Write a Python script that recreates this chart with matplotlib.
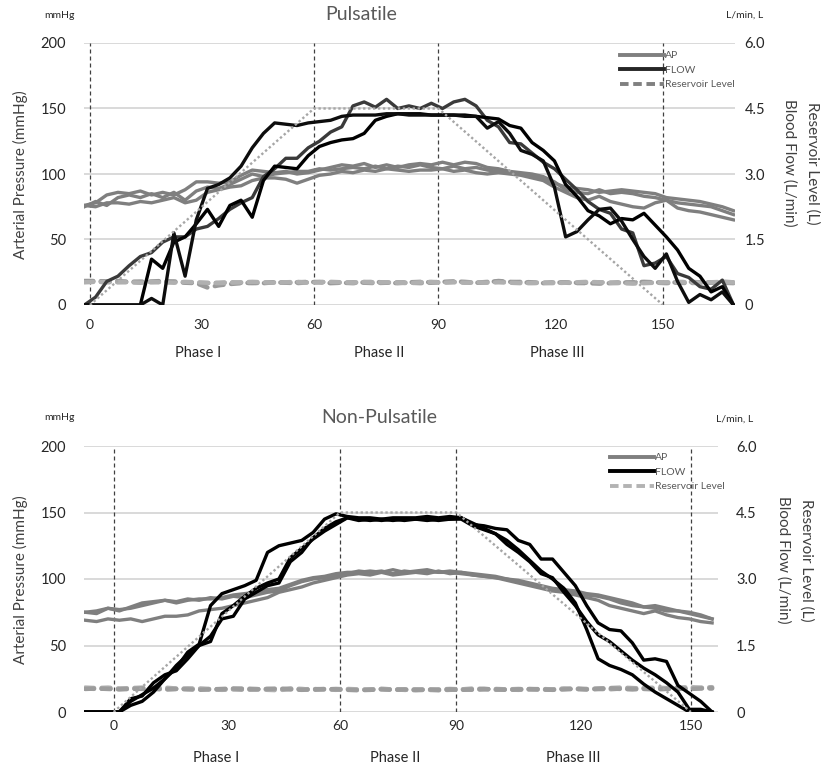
import numpy as np
import matplotlib
matplotlib.use("Agg")
import matplotlib.pyplot as plt
from matplotlib.lines import Line2D

plt.rcParams['font.family'] = ['Lato', 'DejaVu Sans']

# ---------------- data ----------------
TICK_TIMES = [0, 30, 60, 90, 120, 150]
TICK_LABELS = ['0', '30', '60', '90', '120', '150']
TARGET_TIMES = [0, 60, 90, 150]
TARGET_FLOW = [0, 4.5, 4.5, 0]

# Pulsatile panel (uneven category axis)
P_TICK_POS = [0, 29.9, 60.05, 93.4, 124.8, 153.6]
P_START, P_STEP, P_N = -1.5, 3.0, 59

P_AP1 = [76,78,84,86,85,87,84,86,84,88, 94,94,93,94,99,103,102,101,102,100,
         101,103,105,107,106,108,105,107,105,107, 108,107,109,107,109,108,105,104,102,101,
         100,98,94,88,86,85,88,85,86,85, 83,82,80,78,77,76,75,72,69]
P_AP2 = [76,75,78,78,77,79,78,80,82,78, 80,86,88,90,91,95,97,97,96,93,
         96,99,100,102,101,103,102,104,103,102, 103,103,104,102,103,101,100,101,100,99,
         97,95,90,86,82,80,83,79,77,75, 74,78,80,74,72,71,69,67,65]
P_AP3 = [75,79,76,82,84,82,85,82,86,80, 87,90,89,92,96,100,98,100,101,102,
         102,104,103,104,105,104,106,104,106,105, 107,105,104,106,104,105,103,102,101,100,
         99,96,93,90,89,88,86,87,88,87, 86,85,82,81,80,79,77,75,72]

P_FLOW1 = [0,0,0,0,0,0,0.15,0.0,1.65,0.66, 1.95,2.67,2.76,2.91,3.18,3.60,3.93,4.17,4.14,4.11,
           4.17,4.20,4.23,4.32,4.35,4.35,4.35,4.38,4.38,4.35, 4.35,4.35,4.35,4.35,4.32,4.32,4.05,4.20,3.93,3.54,
           3.45,3.30,2.70,1.56,1.68,1.95,2.19,2.22,1.92,1.50, 1.11,0.84,1.17,0.54,0.06,0.24,0.12,0.30,0.0]
P_FLOW2 = [0,0,0,0,0,0,1.05,0.84,1.44,1.56, 1.86,2.19,1.80,2.28,2.40,2.01,2.85,3.18,3.15,3.12,
           3.42,3.63,3.72,3.78,3.81,3.93,4.23,4.32,4.38,4.38, 4.38,4.35,4.35,4.35,4.35,4.32,4.29,4.26,4.11,4.05,
           3.72,3.54,3.30,2.76,2.49,2.16,2.04,1.86,1.98,1.95, 2.10,1.83,1.56,1.26,0.84,0.66,0.30,0.42,0.0]
P_FLOW3 = [0,0.18,0.54,0.66,0.90,1.11,1.20,1.44,1.56,1.56, 1.74,1.80,1.98,2.19,2.34,2.46,2.94,3.12,3.36,3.36,
           3.60,3.75,3.96,4.08,4.56,4.65,4.53,4.71,4.50,4.56, 4.50,4.62,4.50,4.65,4.71,4.56,4.23,4.08,3.72,3.69,
           3.48,3.27,3.12,2.88,2.64,2.37,2.19,2.10,1.74,1.65, 0.90,0.96,1.11,0.72,0.63,0.42,0.36,0.57,0.0]

P_RES1 = [0.53,0.54,0.53,0.52,0.53,0.54,0.52,0.53,0.54,0.52, 0.51,0.50,0.51,0.52,0.51,0.50,0.51,0.52,0.51,0.50,
          0.52,0.53,0.52,0.51,0.52,0.51,0.50,0.51,0.52,0.51, 0.50,0.51,0.52,0.53,0.52,0.51,0.53,0.54,0.52,0.53,
          0.52,0.51,0.52,0.51,0.50,0.51,0.52,0.51,0.52,0.51, 0.52,0.51,0.50,0.51,0.50,0.51,0.52,0.51,0.50]
P_RES2 = [0.55,0.55,0.54,0.55,0.53,0.52,0.54,0.55,0.53,0.51, 0.50,0.40,0.45,0.48,0.50,0.51,0.50,0.52,0.51,0.52,
          0.53,0.52,0.50,0.51,0.50,0.52,0.53,0.51,0.50,0.52, 0.53,0.52,0.53,0.54,0.53,0.51,0.52,0.55,0.53,0.52,
          0.51,0.50,0.51,0.52,0.51,0.50,0.49,0.50,0.51,0.52, 0.53,0.52,0.51,0.52,0.53,0.52,0.51,0.53,0.52]
P_RES3 = [0.52,0.53,0.52,0.53,0.52,0.51,0.53,0.52,0.51,0.53, 0.52,0.51,0.50,0.51,0.52,0.53,0.52,0.51,0.52,0.53,
          0.51,0.52,0.53,0.52,0.51,0.53,0.52,0.52,0.51,0.50, 0.52,0.53,0.51,0.52,0.51,0.52,0.51,0.52,0.51,0.50,
          0.50,0.51,0.50,0.51,0.52,0.53,0.52,0.51,0.50,0.49, 0.50,0.51,0.52,0.53,0.52,0.51,0.52,0.53,0.52]

# Non-pulsatile panel
N_TICK_POS = [0, 30.3, 59.6, 90.2, 123.1, 151.9]
N_START, N_STEP, N_N = -7.5, 3.0, 56

N_AP1 = [75,74,78,77,78,80,82,84,83,85, 84,86,85,87,86,88,90,91,95,98,
         100,101,103,104,106,105,106,104,106,105, 106,105,106,105,104,103,102,100,98,96,
         94,92,91,90,88,87,85,82,80,79, 80,78,76,74,72,70]
N_AP2 = [69,68,70,69,70,68,70,72,72,73, 76,77,78,80,82,84,86,90,92,94,
         97,99,101,103,104,103,105,103,104,105, 104,106,104,105,103,102,101,99,97,95,
         93,91,90,88,86,84,80,78,76,74, 76,73,71,70,68,67]
N_AP3 = [75,76,78,76,79,82,83,84,82,84, 85,85,86,88,89,90,92,93,96,99,
         101,102,104,105,105,106,105,107,105,106, 107,105,105,104,103,102,101,100,99,97,
         95,93,92,91,89,88,86,84,82,79, 78,76,76,75,73,70]

N_FLOW1 = [0,0,0,0,0.24,0.39,0.54,0.75,0.99,1.35, 1.53,2.40,2.67,2.76,2.85,2.97,3.60,3.75,3.81,3.87,
           4.05,4.35,4.47,4.41,4.38,4.38,4.35,4.38,4.38,4.38, 4.41,4.38,4.41,4.38,4.23,4.20,4.14,4.11,3.87,3.78,
           3.45,3.45,3.15,2.85,2.40,2.01,1.86,1.83,1.56,1.17, 1.20,1.14,0.60,0.42,0.24,0.0]
N_FLOW2 = [0,0,0,0,0.30,0.36,0.66,0.84,0.93,1.20, 1.50,1.71,2.10,2.16,2.55,2.70,2.85,2.91,3.39,3.60,
           3.93,4.14,4.29,4.38,4.35,4.32,4.35,4.32,4.35,4.35, 4.32,4.35,4.35,4.35,4.20,4.11,4.02,3.78,3.60,3.39,
           3.12,3.03,2.70,2.40,2.04,1.74,1.59,1.38,1.17,0.99, 0.84,0.66,0.45,0.06,0.06,0.0]
N_FLOW3 = [0,0,0,0,0.15,0.24,0.45,0.75,1.05,1.29, 1.50,1.59,2.22,2.40,2.61,2.79,2.91,3.00,3.48,3.69,
           3.90,4.08,4.23,4.38,4.32,4.35,4.32,4.35,4.32,4.35, 4.35,4.32,4.35,4.38,4.26,4.14,4.02,3.87,3.66,3.42,
           3.18,3.00,2.79,2.46,1.86,1.20,1.05,0.96,0.84,0.63, 0.45,0.30,0.15,0.0,0.0,0.0]

N_RES1 = [0.53,0.52,0.53,0.52,0.53,0.52,0.53,0.51,0.52,0.53, 0.52,0.51,0.50,0.51,0.50,0.51,0.52,0.51,0.53,0.52,
          0.50,0.51,0.52,0.51,0.50,0.51,0.52,0.51,0.50,0.51, 0.50,0.49,0.50,0.51,0.50,0.51,0.52,0.51,0.50,0.51,
          0.52,0.51,0.52,0.53,0.52,0.53,0.54,0.55,0.54,0.53, 0.54,0.53,0.52,0.53,0.54,0.53]
N_RES2 = [0.55,0.54,0.55,0.53,0.54,0.55,0.54,0.55,0.53,0.52, 0.53,0.52,0.51,0.52,0.53,0.52,0.50,0.49,0.52,0.51,
          0.52,0.51,0.50,0.52,0.51,0.50,0.52,0.51,0.50,0.49, 0.50,0.51,0.52,0.51,0.53,0.52,0.50,0.51,0.52,0.51,
          0.50,0.51,0.53,0.52,0.51,0.52,0.51,0.53,0.52,0.54, 0.55,0.54,0.55,0.56,0.55,0.56]
N_RES3 = [0.52,0.53,0.52,0.51,0.52,0.53,0.52,0.51,0.52,0.51, 0.50,0.51,0.52,0.53,0.52,0.51,0.52,0.53,0.51,0.50,
          0.51,0.52,0.51,0.50,0.49,0.50,0.51,0.50,0.51,0.50, 0.51,0.50,0.51,0.50,0.51,0.52,0.51,0.50,0.51,0.52,
          0.51,0.50,0.51,0.52,0.51,0.52,0.53,0.52,0.51,0.52, 0.51,0.52,0.53,0.52,0.53,0.54]

# ---------------- figure ----------------
W, H = 823, 771
fig = plt.figure(figsize=(W / 100, H / 100), dpi=100)


def fx(px):
    return px / W


def fy(py):
    return 1 - py / H


AP_C = '#7f7f7f'
TXT = '#404040'


def panel(box, xlim, tick_pos, start, step, n, aps, flows, flow_cols, ress, res_cols,
          lpad, rpad, xpad, leg_xy, leg_res_col, leg_flow_col):
    l, t, r, b = box
    ax = fig.add_axes([fx(l), fy(b), fx(r) - fx(l), fy(t) - fy(b)])
    ax.set_xlim(*xlim)
    ax.set_ylim(0, 200)
    ax2 = ax.twinx()
    ax2.set_ylim(0, 6)
    for a in (ax, ax2):
        for s in a.spines.values():
            s.set_visible(False)
    ax.set_axisbelow(True)
    ax.set_yticks([0, 50, 100, 150, 200])
    ax.yaxis.grid(True, color='#d9d9d9', lw=1.4)
    ax.tick_params(axis='y', length=0, pad=lpad, labelsize=10.5, labelcolor='#262626')
    ax.set_xticks(tick_pos)
    ax.set_xticklabels(TICK_LABELS)
    ax.tick_params(axis='x', length=0, pad=xpad, labelsize=10, labelcolor='#262626')
    ax2.set_yticks([0, 1.5, 3, 4.5, 6])
    ax2.set_yticklabels(['0', '1.5', '3.0', '4.5', '6.0'])
    ax2.tick_params(axis='y', length=0, pad=rpad, labelsize=10.5, labelcolor='#262626')

    for tpos in [tick_pos[0], tick_pos[2], tick_pos[3], tick_pos[5]]:
        ax.axvline(tpos, color='#404040', lw=0.9, dashes=(3.2, 2.4), zorder=1)

    xs = start + step * np.arange(n)
    for ap in aps:
        ax.plot(xs, ap, color=AP_C, lw=2.4, solid_joinstyle='round', zorder=3)
    for res, c in zip(ress, res_cols):
        ax2.plot(xs, res, color=c, lw=3.2, dashes=(2.0, 1.7), dash_capstyle='round', zorder=2)
    for fl, c in zip(flows, flow_cols):
        ax2.plot(xs, fl, color=c, lw=2.4, solid_joinstyle='round', zorder=3)
    tx = np.interp(TARGET_TIMES, TICK_TIMES, tick_pos)
    ax2.plot(tx, TARGET_FLOW, color='#a6a6a6', lw=1.7, dashes=(1, 1.1), zorder=4)

    handles = [Line2D([], [], color=AP_C, lw=2.8),
               Line2D([], [], color=leg_flow_col, lw=2.8),
               Line2D([], [], color=leg_res_col, lw=2.8, dashes=(2.2, 1.2))]
    ax2.legend(handles, ['AP', 'FLOW', 'Reservoir Level'], loc='upper left',
               bbox_to_anchor=(fx(leg_xy[0]), fy(leg_xy[1])), bbox_transform=fig.transFigure,
               frameon=False, fontsize=7.5, handlelength=4.2, handletextpad=0.15,
               labelspacing=0.5, borderpad=0, borderaxespad=0, labelcolor='#595959')
    return ax, ax2


panel((84, 43, 735, 305), (-1.6, 172.9), P_TICK_POS, P_START, P_STEP, P_N,
      [P_AP1, P_AP2, P_AP3], [P_FLOW3, P_FLOW2, P_FLOW1], ['#3a3a3a', '#000000', '#0d0d0d'],
      [P_RES1, P_RES2, P_RES3], ['#a6a6a6', '#999999', '#b0b0b0'],
      lpad=13, rpad=7, xpad=10, leg_xy=(620, 51), leg_res_col='#808080', leg_flow_col='#262626')

panel((84, 446, 718, 712), (-7.8, 159.05), N_TICK_POS, N_START, N_STEP, N_N,
      [N_AP1, N_AP2, N_AP3], [N_FLOW2, N_FLOW3, N_FLOW1], ['#000000', '#000000', '#000000'],
      [N_RES1, N_RES2, N_RES3], ['#a6a6a6', '#b0b0b0', '#9c9c9c'],
      lpad=13, rpad=13, xpad=6, leg_xy=(610, 453), leg_res_col='#b3b3b3', leg_flow_col='#000000')

# ---------------- texts ----------------
def ftxt(px, py, s, **kw):
    fig.text(fx(px), fy(py), s, **kw)


ftxt(361, 15, 'Pulsatile', ha='center', va='center', fontsize=14, color='#595959')
ftxt(379, 418, 'Non-Pulsatile', ha='center', va='center', fontsize=14, color='#595959')
for py in (15, 418):
    ftxt(60, py, 'mmHg', ha='center', va='center', fontsize=7.5, color='#262626')
ftxt(745, 15, 'L/min, L', ha='center', va='center', fontsize=7.5, color='#262626')
ftxt(735, 419, 'L/min, L', ha='center', va='center', fontsize=7.5, color='#262626')

ftxt(20, 175, 'Arterial Pressure (mmHg)', ha='center', va='center', rotation=90,
     fontsize=11, color=TXT)
ftxt(20, 580, 'Arterial Pressure (mmHg)', ha='center', va='center', rotation=90,
     fontsize=11, color=TXT)
ftxt(801, 163, 'Reservoir Level (L)\nBlood Flow (L/min)', ha='center', va='center',
     rotation=270, fontsize=11, color=TXT, linespacing=1.75, multialignment='center')
ftxt(795, 560, 'Reservoir Level (L)\nBlood Flow (L/min)', ha='center', va='center',
     rotation=270, fontsize=11, color=TXT, linespacing=1.75, multialignment='center')

for (px, py, s) in [(198, 353, 'Phase I'), (379, 353, 'Phase II'), (557, 353, 'Phase III'),
                    (216, 758, 'Phase I'), (395, 758, 'Phase II'), (573, 758, 'Phase III')]:
    ftxt(px, py, s, ha='center', va='center', fontsize=10.5, color='#262626')

fig.savefig('out.png', dpi=100)
